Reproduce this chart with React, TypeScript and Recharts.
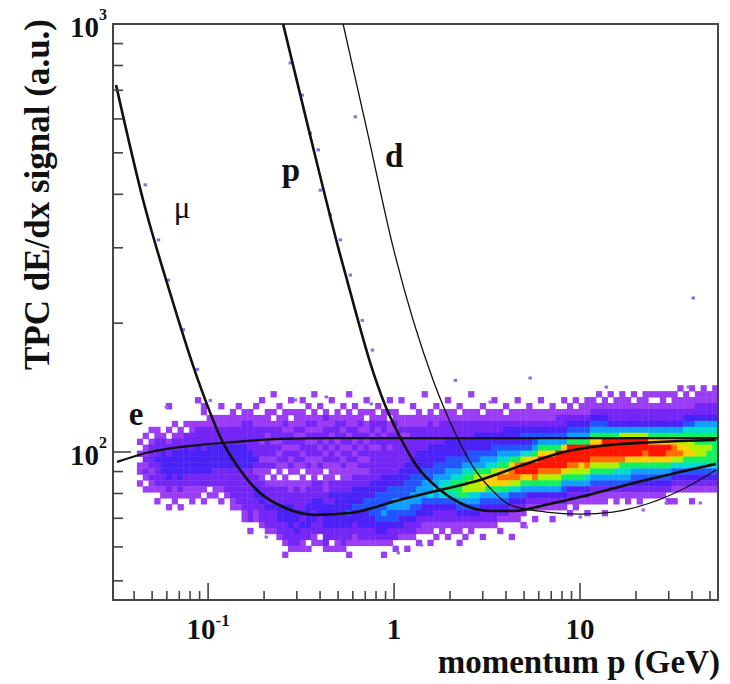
import { ComposedChart, Scatter, Line, XAxis, YAxis, ReferenceArea, Label } from "recharts"

const W = 730
const H = 684
const MARGIN = { top: 24, right: 12, bottom: 0, left: 0 }
const Y_AXIS_W = 113
const X_AXIS_H = 84

// axis ranges
const X_MIN = 0.0308
const X_MAX = 55.2
const Y_MIN = 45.1
const Y_MAX = 1000

const xTicks = [0.04, 0.05, 0.06, 0.07, 0.08, 0.09, 0.1, 0.2, 0.3, 0.4, 0.5, 0.6, 0.7, 0.8, 0.9, 1, 2, 3, 4, 5, 6, 7, 8, 9, 10, 20, 30, 40, 50]
const yTicks = [50, 60, 70, 80, 90, 100, 200, 300, 400, 500, 600, 700, 800, 900, 1000]
const xTickLabels: Record<string, [string, string]> = { "0.1": ["10", "-1"], "1": ["1", ""], "10": ["10", ""] }
const yTickLabels: Record<string, [string, string]> = { "100": ["10", "2"], "1000": ["10", "3"] }

// expected response curves (momentum GeV, signal a.u.)
const electronCurve = [
  { p: 0.0324, v: 94.8 }, { p: 0.0488, v: 100 }, { p: 0.08, v: 103.3 }, { p: 0.1363, v: 105.5 },
  { p: 0.2438, v: 107.3 }, { p: 0.453, v: 107.8 }, { p: 3.71, v: 107.8 }, { p: 55, v: 107.8 },
]
const muonCurve = [
  { p: 0.032, v: 720 }, { p: 0.0447, v: 388 }, { p: 0.0625, v: 235 }, { p: 0.0884, v: 147 },
  { p: 0.1204, v: 105 }, { p: 0.1486, v: 90.8 }, { p: 0.1904, v: 80.2 }, { p: 0.2531, v: 74.4 },
  { p: 0.3855, v: 71.3 }, { p: 0.58, v: 72.0 }, { p: 1.077, v: 77.3 }, { p: 1.767, v: 81.5 },
  { p: 2.9, v: 86.0 }, { p: 4.76, v: 92.7 }, { p: 7.8, v: 99.5 }, { p: 12.8, v: 103.3 },
  { p: 21.0, v: 105.0 }, { p: 34.5, v: 106.1 }, { p: 53.8, v: 106.7 },
]
const protonCurve = [
  { p: 0.2531, v: 1000 }, { p: 0.3534, v: 550 }, { p: 0.5, v: 301 }, { p: 0.617, v: 215 },
  { p: 0.743, v: 162 }, { p: 0.894, v: 128.8 }, { p: 1.077, v: 108.4 }, { p: 1.313, v: 93.2 },
  { p: 1.767, v: 81.5 }, { p: 2.264, v: 76.0 }, { p: 3.28, v: 72.8 }, { p: 4.47, v: 72.8 },
  { p: 6.48, v: 75.2 }, { p: 10, v: 78.5 }, { p: 15.4, v: 82.4 }, { p: 22.6, v: 86.0 },
  { p: 34.5, v: 89.8 }, { p: 53.8, v: 93.8 },
]
const deuteronCurve = [
  { p: 0.532, v: 1000 }, { p: 0.725, v: 550 }, { p: 0.988, v: 301 }, { p: 1.621, v: 147.3 },
  { p: 2.182, v: 108.4 }, { p: 2.66, v: 92.3 }, { p: 3.28, v: 82.4 }, { p: 4.2, v: 75.2 },
  { p: 6.56, v: 72.4 }, { p: 10, v: 71.6 }, { p: 15, v: 72.4 }, { p: 23.8, v: 76.0 },
  { p: 36.7, v: 82.4 }, { p: 53.8, v: 90.8 },
]

const curveLabels = [
  { p: 0.041, v: 115.6, text: "e", bold: true },
  { p: 0.0725, v: 352, text: "μ", bold: false },
  { p: 0.279, v: 429.8, text: "p", bold: true },
  { p: 1.0, v: 463.4, text: "d", bold: true },
]

// isolated hits outside the main band
const strayHits = [
  { p: 0.0458, v: 421 }, { p: 0.0539, v: 313 }, { p: 0.061, v: 252 }, { p: 0.0734, v: 193 },
  { p: 0.0873, v: 156 }, { p: 0.1025, v: 132 }, { p: 0.276, v: 811 }, { p: 0.32, v: 682 },
  { p: 0.353, v: 556 }, { p: 0.39, v: 508 }, { p: 0.4, v: 409 }, { p: 0.453, v: 358 },
  { p: 0.513, v: 313 }, { p: 0.58, v: 259 }, { p: 0.673, v: 203 }, { p: 0.762, v: 173 },
  { p: 0.617, v: 607 }, { p: 2.13, v: 147 }, { p: 40.5, v: 229 }, { p: 5.38, v: 148.9 },
  { p: 13.8, v: 141.8 }, { p: 38.1, v: 141.8 }, { p: 3.28, v: 130.8 }, { p: 0.431, v: 134.5 },
  { p: 0.752, v: 129.5 }, { p: 0.0595, v: 127.4 }, { p: 0.294, v: 132.3 }, { p: 5.13, v: 66.8 },
  { p: 10.0, v: 70.5 }, { p: 21.8, v: 73.2 }, { p: 29.0, v: 76.0 }, { p: 44.2, v: 76.0 },
  { p: 1.05, v: 58.1 }, { p: 1.4, v: 60.6 }, { p: 0.205, v: 63.3 },
]

// 2D histogram: 100 log-momentum bins, 31 log-signal rows (top row first)
const HX_LOG_MIN = -1.383
const HX_STEP = 1 / 32
const HY_LOG_MAX = 2.17
const HY_STEP = 1 / 72

// one string per momentum bin, density level per row ('.' empty, 1..9 a b increasing)
const densityColumns = [
  "..... ..... 1.1.1 1.1..",
  "..... ....1 .1121 21.1.",
  "..... ...1. 12222 1211.",
  "..... ...11 22232 2221. 1....",
  "..... ....1 22333 32211",
  "....1 ...1. 12233 33221 .1...",
  "..... ..1.1 22333 32211 1....",
  "..... ...11 22333 33221 .1...",
  "..... ..1.2 23333 32211",
  "..... ..112 22333 32211 1....",
  "...1. ..122 23333 32211",
  "....1 1.122 22333 3221. 1....",
  "..... .1122 23333 322.1",
  "..... .1122 23333 22211",
  "....1 .1122 23333 2221. 1....",
  "..... .1122 23333 22221",
  "..... 11122 23333 22222 11...",
  "....1 .1122 23333 22222 21...",
  "..... 11222 23333 22222 2211.",
  "..... 11222 22333 22222 2222. 1....",
  "....1 .1122 22232 12233 2211.",
  "...1. .1122 12212 11223 32221",
  "..... 11121 22212 1.122 23222 1....",
  "..1.. 1.122 12212 .1122 23222 1....",
  "....1 .1122 12121 1.122 23332 21...",
  "..... 11212 21221 .1122 23332 221.1",
  "...1. 1.112 21212 1.112 23333 2221.",
  "..... 11121 21221 1.122 22332 3221.",
  "...1. 11121 22121 .1112 22323 2211.",
  "....1 .1212 12212 1.122 23333 22.1.",
  "..1.. 11212 12211 11222 33232 211..",
  "....1 .1112 21212 1.222 33322 2.1..",
  "..... 12122 12121 .1112 23333 2221.",
  "...1. .1121 21221 11223 23333 22.1.",
  "..... 11222 12121 1.223 33333 2211.",
  "....1 .1212 21212 11223 33333 2221.",
  "..1.. 11121 21221 11223 33433 221.1",
  "....1 .1122 12121 12233 34332 211..",
  "..... 11212 21212 12233 34333 221..",
  "...1. 1.112 12212 12233 44333 221..",
  "..... 11221 21222 22333 44433 221..",
  "....1 .1212 21222 22334 44443 321..",
  "..... 11221 22222 23334 44543 321.1",
  "...1. 1.112 21222 23344 45443 221..",
  "..... 11212 22222 23344 55443 22.1.",
  "...1. .1121 22222 33344 55433 21...",
  "..... .1121 22223 33444 55432 21.1.",
  "....1 .1122 22233 34445 54432 21...",
  "..... 11122 22333 34455 54322 1.1..",
  "..1.. .1122 22333 44555 43321 1....",
  "..... 11222 23333 44556 43321 1.1..",
  "....1 .1122 23334 45565 43221 .1...",
  "..... 11222 23334 45666 43221 1....",
  "...1. 11222 33344 55676 43221 .1...",
  "..... 11222 33344 56776 43221 1....",
  "....1 .1222 33344 56777 54321 1.1..",
  "..... 11222 33345 67787 54321 .1...",
  "..1.. 11222 33445 67886 54321 1....",
  "..... 11223 33445 78886 54321",
  "....1 .1223 33455 78985 43221 .1...",
  "..... 11223 33456 79975 43221",
  "...1. 11223 34456 89975 43221",
  "..... 11223 34567 9a975 4321. 1....",
  "....1 .1233 34567 9a975 4321.",
  "..... 11233 34579 aa864 3211. .1...",
  "...1. 11233 3457a ba864 3211.",
  "..... 11234 3468b b9754 321.1",
  "....1 11234 3469b b9753 21...",
  "..... 11234 4579b ba753 21.1.",
  "...1. 11234 579bb a8753 21...",
  "..... 11234 579bb a8753 21...",
  "....1 11234 579bb a8753 21.1.",
  "..... 12234 57bbb a8753 21...",
  "...1. 12234 59bbb 97543 21...",
  "....1 12345 7bbba 87532 1.1..",
  "...1. 12345 7bbba 87532 11...",
  "....1 12345 7bbb9 87532 1....",
  "...11 12345 7bbba 86532 1.1..",
  "...11 23457 9bba8 75421 1....",
  "..1.1 23457 9bba8 75421 1....",
  "...11 23457 bbba8 75421 1.1..",
  "..1.1 22357 bbba8 75421",
  "...11 22357 bbba8 65421 1....",
  "..111 22358 bbba7 65421",
  "...11 22358 bbb97 65421 1....",
  "..1.1 22358 bbb97 54321",
  "...11 22358 bbb97 54321 1....",
  "..111 22358 bba97 54321",
  "..1.1 22357 9bb97 54321",
  "..1.1 22357 9bb97 54321",
  "..111 22357 9bb97 54321",
  "..1.1 22357 9ba97 5432. 1....",
  "..111 22357 9aa86 4321. 1....",
  ".1.11 22357 89a86 4321.",
  "..111 23467 89976 4321.",
  ".1.11 23467 88976 4321. 1....",
  "..112 23567 78876 4321.",
  ".1112 23567 78876 4321.",
  "..112 23567 78776 4321.",
  ".1112 23567 77776 4321.",
]

const PALETTE: Record<string, string> = {
  "1": "#9a3df5",
  "2": "#7326f5",
  "3": "#4a22f7",
  "4": "#2255ff",
  "5": "#0fa0ff",
  "6": "#00dcd0",
  "7": "#10f060",
  "8": "#b0f000",
  "9": "#ffd000",
  a: "#ff7000",
  b: "#ff1400",
}

const FONT = '"Liberation Serif", "Times New Roman", serif'
const FRAME = "#444"
const INK = "#111"

const cells = densityColumns.flatMap((col, c) => {
  const s = col.replace(/ /g, "")
  const out: { p: number; v: number; level: string }[] = []
  for (let r = 0; r < s.length; r++) {
    if (s[r] === ".") continue
    out.push({
      p: Math.pow(10, HX_LOG_MIN + (c + 0.5) * HX_STEP),
      v: Math.pow(10, HY_LOG_MAX - (r + 0.5) * HY_STEP),
      level: s[r],
    })
  }
  return out
})

const PLOT_W = W - Y_AXIS_W - MARGIN.right
const PLOT_H = H - MARGIN.top - X_AXIS_H
const CELL_W = (PLOT_W * HX_STEP) / Math.log10(X_MAX / X_MIN)
const CELL_H = (PLOT_H * HY_STEP) / Math.log10(Y_MAX / Y_MIN)

function HeatCell(props: any) {
  const { cx, cy } = props
  const level = props.payload?.level ?? props.level
  if (cx == null || cy == null) return null
  return <rect x={cx - CELL_W / 2} y={cy - CELL_H / 2} width={CELL_W + 0.4} height={CELL_H + 0.4} fill={PALETTE[level]} />
}

function StrayHit(props: any) {
  const { cx, cy } = props
  if (cx == null || cy == null) return null
  return <rect x={cx - 1.5} y={cy - 1.5} width={3.5} height={3} fill="#8f6cf0" />
}

function CurveLabel(props: any) {
  const { cx, cy } = props
  const d = props.payload ?? props
  return (
    <text x={cx} y={cy} textAnchor="middle" fontFamily={FONT} fontWeight={d.bold ? "bold" : "normal"} fontSize={d.bold ? 33 : 31} fill={INK}>
      {d.text}
    </text>
  )
}

function XTick(props: any) {
  const { x, y, payload } = props
  const lab = xTickLabels[String(payload.value)]
  const len = lab ? 17 : 9
  return (
    <g>
      <line x1={x} y1={y} x2={x} y2={y - len} stroke={FRAME} strokeWidth={1.6} />
      {lab && (
        <text x={x} y={y + 39} textAnchor="middle" fontFamily={FONT} fontWeight="bold" fontSize={29} fill={INK}>
          {lab[0]}
          {lab[1] && (
            <tspan dy={-13} fontSize={17}>
              {lab[1]}
            </tspan>
          )}
        </text>
      )}
    </g>
  )
}

function YTick(props: any) {
  const { x, y, payload } = props
  const lab = yTickLabels[String(payload.value)]
  const len = lab ? 18 : 10
  return (
    <g>
      <line x1={x} y1={y} x2={x + len} y2={y} stroke={FRAME} strokeWidth={1.6} />
      {lab && (
        <text x={x - 6} y={y + 13} textAnchor="end" fontFamily={FONT} fontWeight="bold" fontSize={29} fill={INK}>
          {lab[0]}
          <tspan dy={-17} fontSize={16}>
            {lab[1]}
          </tspan>
        </text>
      )}
    </g>
  )
}

const layer: React.CSSProperties = { position: "absolute", left: 0, top: 0 }

// bottom layer: the histogram cells only
function DensityLayer() {
  return (
    <ComposedChart width={W} height={H} margin={MARGIN}>
      <XAxis dataKey="p" type="number" scale="log" domain={[X_MIN, X_MAX]} allowDataOverflow tick={false} tickLine={false} axisLine={false} height={X_AXIS_H} />
      <YAxis dataKey="v" type="number" scale="log" domain={[Y_MIN, Y_MAX]} allowDataOverflow tick={false} tickLine={false} axisLine={false} width={Y_AXIS_W} />
      <Scatter data={cells} dataKey="v" shape={(p: any) => <HeatCell {...p} />} isAnimationActive={false} />
      <Scatter data={strayHits} dataKey="v" shape={(p: any) => <StrayHit {...p} />} isAnimationActive={false} />
    </ComposedChart>
  )
}

// top layer: curves, labels, axes and frame
function CurveLayer() {
  return (
    <ComposedChart width={W} height={H} margin={MARGIN}>
      <XAxis
        dataKey="p"
        type="number"
        scale="log"
        domain={[X_MIN, X_MAX]}
        allowDataOverflow
        ticks={xTicks}
        interval={0}
        tick={(p: any) => <XTick {...p} />}
        tickLine={false}
        axisLine={false}
        tickSize={0}
        tickMargin={0}
        height={X_AXIS_H}
      >
        <Label
          content={(props: any) => {
            const vb = props.viewBox || { x: 113, y: 600, width: 605 }
            return (
              <text x={vb.x + vb.width + 2} y={vb.y + 73} textAnchor="end" fontFamily={FONT} fontWeight="bold" fontSize={33} fill={INK}>
                momentum p (GeV)
              </text>
            )
          }}
        />
      </XAxis>
      <YAxis
        dataKey="v"
        type="number"
        scale="log"
        domain={[Y_MIN, Y_MAX]}
        allowDataOverflow
        ticks={yTicks}
        interval={0}
        tick={(p: any) => <YTick {...p} />}
        tickLine={false}
        axisLine={false}
        tickSize={0}
        tickMargin={0}
        width={Y_AXIS_W}
      >
        <Label
          content={(props: any) => {
            const vb = props.viewBox || { x: 0, y: 24 }
            const ty = vb.y - 5
            return (
              <text x={49} y={ty} transform={`rotate(-90 49 ${ty})`} textAnchor="end" fontFamily={FONT} fontWeight="bold" fontSize={35} fill={INK}>
                TPC dE/dx signal (a.u.)
              </text>
            )
          }}
        />
      </YAxis>
      <Line data={electronCurve} dataKey="v" type="monotone" stroke={INK} strokeWidth={2.2} dot={false} isAnimationActive={false} />
      <Line data={muonCurve} dataKey="v" type="monotone" stroke={INK} strokeWidth={2.6} dot={false} isAnimationActive={false} />
      <Line data={protonCurve} dataKey="v" type="monotone" stroke={INK} strokeWidth={2.6} dot={false} isAnimationActive={false} />
      <Line data={deuteronCurve} dataKey="v" type="monotone" stroke={INK} strokeWidth={1.3} dot={false} isAnimationActive={false} />
      <Scatter data={curveLabels} dataKey="v" shape={(p: any) => <CurveLabel {...p} />} isAnimationActive={false} />
      <ReferenceArea x1={X_MIN} x2={X_MAX} y1={Y_MIN} y2={Y_MAX} fill="none" stroke={FRAME} strokeWidth={2} ifOverflow="visible" />
    </ComposedChart>
  )
}

export default function App() {
  return (
    <div style={{ position: "absolute", left: 0, top: 0, width: W, height: H, background: "#fff" }}>
      <div style={layer}>
        <DensityLayer />
      </div>
      <div style={layer}>
        <CurveLayer />
      </div>
    </div>
  )
}
